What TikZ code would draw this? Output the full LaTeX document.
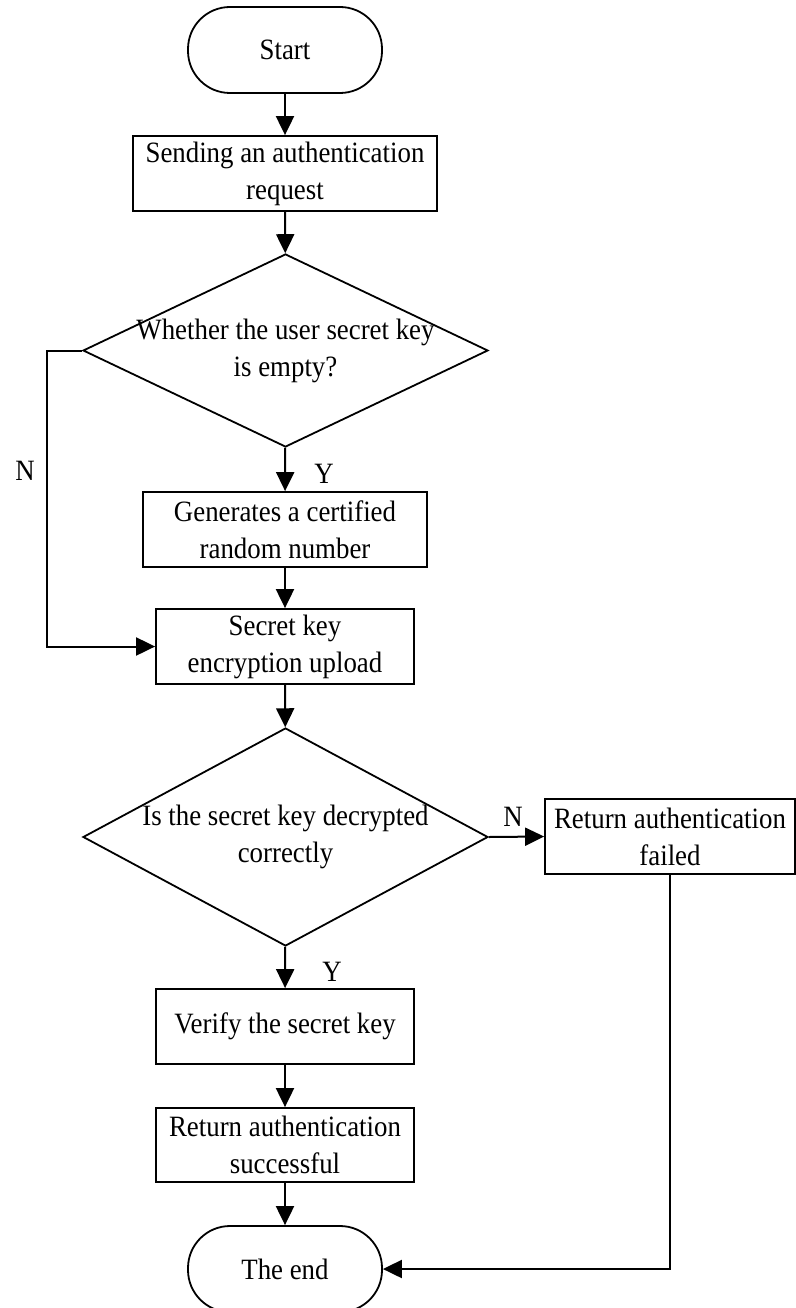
\documentclass[tikz,border=0pt]{standalone}
\usepackage{fontspec}
\setmainfont{Liberation Serif}[FakeStretch=0.91]
\usetikzlibrary{shapes.geometric,arrows.meta}

\tikzset{
  base/.style={draw=black, line width=1.8pt, inner sep=0pt, align=center,
    font=\fontsize{29.5}{37}\selectfont},
  terminal/.style={base, rectangle, rounded corners=42pt, minimum width=194pt, minimum height=86pt},
  process/.style={base, rectangle, minimum height=75pt},
  decision/.style={base, diamond, minimum width=405pt},
  txt/.style={inner sep=0pt, align=center, font=\fontsize{29.5}{37}\selectfont},
  flow/.style={line width=2pt, -{Triangle[length=19pt,width=18pt]}},
  wire/.style={line width=2pt}
}

\begin{document}
\begin{tikzpicture}[x=1pt, y=-1pt]
\useasboundingbox (0,0) rectangle (795,1308);

% main column
\node[terminal] (start) at (285,50) {Start};
\node[process, minimum width=304pt] (send) at (285,173.5) {Sending an authentication\\request};
\node[decision, minimum height=193pt] (d1) at (285.5,350.5) {};
\node[txt] (d1t) at (d1.center) {Whether the user secret key\\is empty?};
\node[process, minimum width=284pt] (gen) at (285,529.5) {Generates a certified\\random number};
\node[process, minimum width=258pt] (upl) at (285,646.5) {Secret key\\encryption upload};
\node[decision, minimum height=218pt] (d2) at (285.5,837) {};
\node[txt] (d2t) at (d2.center) {Is the secret key decrypted\\correctly};
\node[process, minimum width=250pt] (fail) at (670,836.5) {Return authentication\\failed};
\node[process, minimum width=258pt] (ver) at (285,1026.5) {Verify the secret key};
\node[process, minimum width=258pt, minimum height=74pt] (succ) at (285,1145) {Return authentication\\successful};
\node[terminal] (end) at (285,1269) {The end};

% branch labels
\node[txt] (n1) at (25,471) {N};
\node[txt] (y1) at (324,474) {Y};
\node[txt] (n2) at (513,817) {N};
\node[txt] (y2) at (332,972) {Y};

% connectors
\draw[flow] (start) -- (send);
\draw[flow] (send) -- (d1);
\draw[flow] (d1) -- (gen);
\draw[flow] (gen) -- (upl);
\draw[flow] (d1.west) -- ++(-35,0) |- (upl.west);
\draw[flow] (upl) -- (d2);
\draw[flow] (d2.east) -- (fail.west);
\draw[flow] (d2) -- (ver);
\draw[flow] (ver) -- (succ);
\draw[flow] (succ) -- (end);
\draw[flow] (fail.south) |- (end.east);
\end{tikzpicture}
\end{document}
